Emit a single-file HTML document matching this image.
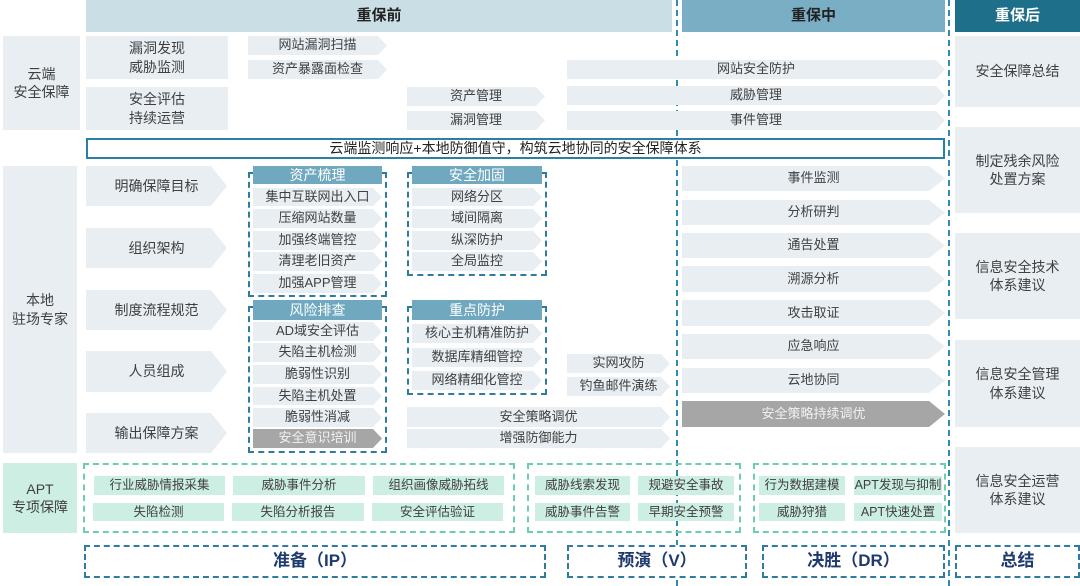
<!DOCTYPE html>
<html><head><meta charset="utf-8"><style>
*{margin:0;padding:0;box-sizing:border-box}
body{width:1080px;height:586px;background:#fff;position:relative;overflow:hidden;font-family:"Liberation Sans","Noto Sans CJK SC",sans-serif;color:#404040}
div{position:absolute}
.c{display:flex;align-items:center;justify-content:center;text-align:center;line-height:1.3}
.bx{background:#e8eef2}
.ar{background:#e8eef2;clip-path:polygon(0 0,calc(100% - 9px) 0,100% 50%,calc(100% - 9px) 100%,0 100%)}
.arL{background:#e8eef2;clip-path:polygon(0 0,calc(100% - 16px) 0,100% 50%,calc(100% - 16px) 100%,0 100%)}
.s{font-size:13px}
.m{font-size:14px}
.h{background:#6fa8bf;color:#fff;font-size:14px}
.dash{border:2px dashed #2f7ca0}
.dg{border:2px dashed #6ccdb0}
.g{background:#cdeee2;font-size:12.5px}
.gray{background:#a6a6a6;color:#f2f2f2}
.bot{font-size:17px;font-weight:bold;color:#1f3a6e}
.vl{width:0;border-left:2px dashed #2f8bb0;top:0;height:586px}
</style></head><body>
<div class="vl" style="left:676px"></div>
<div class="vl" style="left:948px"></div>

<div class="c" style="left:86px;top:0;width:586px;height:32px;background:#c9dfe5;font-size:15px;font-weight:bold;color:#222">重保前</div>
<div class="c" style="left:682px;top:0;width:263px;height:32px;background:#7aaec4;font-size:15px;font-weight:bold;color:#222">重保中</div>
<div class="c" style="left:955px;top:0;width:125px;height:32px;background:#1e6f8a;font-size:15px;font-weight:bold;color:#fff">重保后</div>

<div class="c bx m" style="left:3px;top:36px;width:77px;height:94px">云端<br>安全保障</div>
<div class="c bx m" style="left:3px;top:166px;width:74px;height:287px">本地<br>驻场专家</div>
<div class="c m" style="left:3px;top:463px;width:74px;height:70px;background:#cdeee2">APT<br>专项保障</div>

<div class="c bx m" style="left:86px;top:36px;width:142px;height:43px">漏洞发现<br>威胁监测</div>
<div class="c bx m" style="left:86px;top:87px;width:142px;height:43px">安全评估<br>持续运营</div>
<div class="c ar s" style="left:248px;top:36px;width:139px;height:19px">网站漏洞扫描</div>
<div class="c ar s" style="left:248px;top:60px;width:139px;height:19px">资产暴露面检查</div>
<div class="c ar s" style="left:407px;top:87px;width:138px;height:19px">资产管理</div>
<div class="c ar s" style="left:407px;top:111px;width:138px;height:19px">漏洞管理</div>
<div class="c ar s" style="left:567px;top:60px;width:378px;height:19px">网站安全防护</div>
<div class="c ar s" style="left:567px;top:86px;width:378px;height:19px">威胁管理</div>
<div class="c ar s" style="left:567px;top:111px;width:378px;height:19px">事件管理</div>

<div class="c" style="left:86px;top:138px;width:859px;height:21px;border:2px solid #2a7fa3;background:#fff;font-size:14px;color:#222">云端监测响应+本地防御值守，构筑云地协同的安全保障体系</div>

<div class="c arL m" style="left:86px;top:166px;width:141px;height:40px">明确保障目标</div>
<div class="c arL m" style="left:86px;top:228px;width:141px;height:40px">组织架构</div>
<div class="c arL m" style="left:86px;top:290px;width:141px;height:40px">制度流程规范</div>
<div class="c arL m" style="left:86px;top:351px;width:141px;height:41px">人员组成</div>
<div class="c arL m" style="left:86px;top:413px;width:141px;height:40px">输出保障方案</div>

<div class="dash" style="left:248px;top:172px;width:139px;height:125px"></div>
<div class="c h" style="left:253px;top:166px;width:129px;height:18px">资产梳理</div>
<div class="c ar s" style="left:253px;top:188px;width:129px;height:18px">集中互联网出入口</div>
<div class="c ar s" style="left:253px;top:209px;width:129px;height:19px">压缩网站数量</div>
<div class="c ar s" style="left:253px;top:231px;width:129px;height:19px">加强终端管控</div>
<div class="c ar s" style="left:253px;top:252px;width:129px;height:19px">清理老旧资产</div>
<div class="c ar s" style="left:253px;top:274px;width:129px;height:19px">加强APP管理</div>

<div class="dash" style="left:407px;top:172px;width:140px;height:104px"></div>
<div class="c h" style="left:412px;top:166px;width:130px;height:18px">安全加固</div>
<div class="c ar s" style="left:412px;top:188px;width:130px;height:18px">网络分区</div>
<div class="c ar s" style="left:412px;top:209px;width:130px;height:19px">域间隔离</div>
<div class="c ar s" style="left:412px;top:231px;width:130px;height:19px">纵深防护</div>
<div class="c ar s" style="left:412px;top:252px;width:130px;height:19px">全局监控</div>

<div class="dash" style="left:248px;top:306px;width:139px;height:147px"></div>
<div class="c h" style="left:253px;top:300px;width:129px;height:20px">风险排查</div>
<div class="c ar s" style="left:253px;top:322px;width:129px;height:19px">AD域安全评估</div>
<div class="c ar s" style="left:253px;top:343px;width:129px;height:19px">失陷主机检测</div>
<div class="c ar s" style="left:253px;top:365px;width:129px;height:19px">脆弱性识别</div>
<div class="c ar s" style="left:253px;top:387px;width:129px;height:18px">失陷主机处置</div>
<div class="c ar s" style="left:253px;top:408px;width:129px;height:19px">脆弱性消减</div>
<div class="c ar s gray" style="left:253px;top:429px;width:129px;height:19px">安全意识培训</div>

<div class="dash" style="left:407px;top:306px;width:140px;height:89px"></div>
<div class="c h" style="left:412px;top:300px;width:130px;height:20px">重点防护</div>
<div class="c ar s" style="left:412px;top:324px;width:130px;height:19px">核心主机精准防护</div>
<div class="c ar s" style="left:412px;top:348px;width:130px;height:19px">数据库精细管控</div>
<div class="c ar s" style="left:412px;top:371px;width:130px;height:19px">网络精细化管控</div>

<div class="c ar s" style="left:567px;top:354px;width:103px;height:19px">实网攻防</div>
<div class="c ar s" style="left:567px;top:377px;width:103px;height:19px">钓鱼邮件演练</div>
<div class="c ar s" style="left:407px;top:407px;width:263px;height:20px">安全策略调优</div>
<div class="c ar s" style="left:407px;top:429px;width:263px;height:19px">增强防御能力</div>

<div class="c arL s" style="left:682px;top:166px;width:263px;height:25px">事件监测</div>
<div class="c arL s" style="left:682px;top:200px;width:263px;height:25px">分析研判</div>
<div class="c arL s" style="left:682px;top:233px;width:263px;height:25px">通告处置</div>
<div class="c arL s" style="left:682px;top:266px;width:263px;height:26px">溯源分析</div>
<div class="c arL s" style="left:682px;top:300px;width:263px;height:26px">攻击取证</div>
<div class="c arL s" style="left:682px;top:334px;width:263px;height:25px">应急响应</div>
<div class="c arL s" style="left:682px;top:368px;width:263px;height:25px">云地协同</div>
<div class="c arL s gray" style="left:682px;top:401px;width:263px;height:26px">安全策略持续调优</div>

<div class="c bx m" style="left:955px;top:36px;width:125px;height:71px">安全保障总结</div>
<div class="c bx m" style="left:955px;top:127px;width:125px;height:86px">制定残余风险<br>处置方案</div>
<div class="c bx m" style="left:955px;top:233px;width:125px;height:86px">信息安全技术<br>体系建议</div>
<div class="c bx m" style="left:955px;top:340px;width:125px;height:87px">信息安全管理<br>体系建议</div>
<div class="c bx m" style="left:955px;top:447px;width:125px;height:86px">信息安全运营<br>体系建议</div>

<div class="dg" style="left:83px;top:463px;width:432px;height:70px"></div>
<div class="c g" style="left:94px;top:476px;width:131px;height:19px">行业威胁情报采集</div>
<div class="c g" style="left:233px;top:476px;width:132px;height:19px">威胁事件分析</div>
<div class="c g" style="left:373px;top:476px;width:131px;height:19px">组织画像威胁拓线</div>
<div class="c g" style="left:93px;top:503px;width:131px;height:18px">失陷检测</div>
<div class="c g" style="left:232px;top:503px;width:132px;height:18px">失陷分析报告</div>
<div class="c g" style="left:372px;top:503px;width:131px;height:18px">安全评估验证</div>

<div class="dg" style="left:527px;top:463px;width:214px;height:70px"></div>
<div class="c g" style="left:535px;top:476px;width:95px;height:19px">威胁线索发现</div>
<div class="c g" style="left:638px;top:476px;width:96px;height:19px">规避安全事故</div>
<div class="c g" style="left:535px;top:503px;width:95px;height:18px">威胁事件告警</div>
<div class="c g" style="left:638px;top:503px;width:96px;height:18px">早期安全预警</div>

<div class="dg" style="left:753px;top:463px;width:193px;height:70px"></div>
<div class="c g" style="left:759px;top:476px;width:86px;height:19px">行为数据建模</div>
<div class="c g" style="left:854px;top:476px;width:88px;height:19px">APT发现与抑制</div>
<div class="c g" style="left:759px;top:503px;width:86px;height:18px">威胁狩猎</div>
<div class="c g" style="left:854px;top:503px;width:88px;height:18px">APT快速处置</div>

<div class="c dash bot" style="left:84px;top:545px;width:462px;height:33px;background:#fff">准备（IP）</div>
<div class="c dash bot" style="left:567px;top:545px;width:180px;height:33px;background:#fff">预演（V）</div>
<div class="c dash bot" style="left:762px;top:545px;width:183px;height:33px;background:#fff">决胜（DR）</div>
<div class="c dash bot" style="left:955px;top:545px;width:125px;height:33px;background:#fff">总结</div>
</body></html>
